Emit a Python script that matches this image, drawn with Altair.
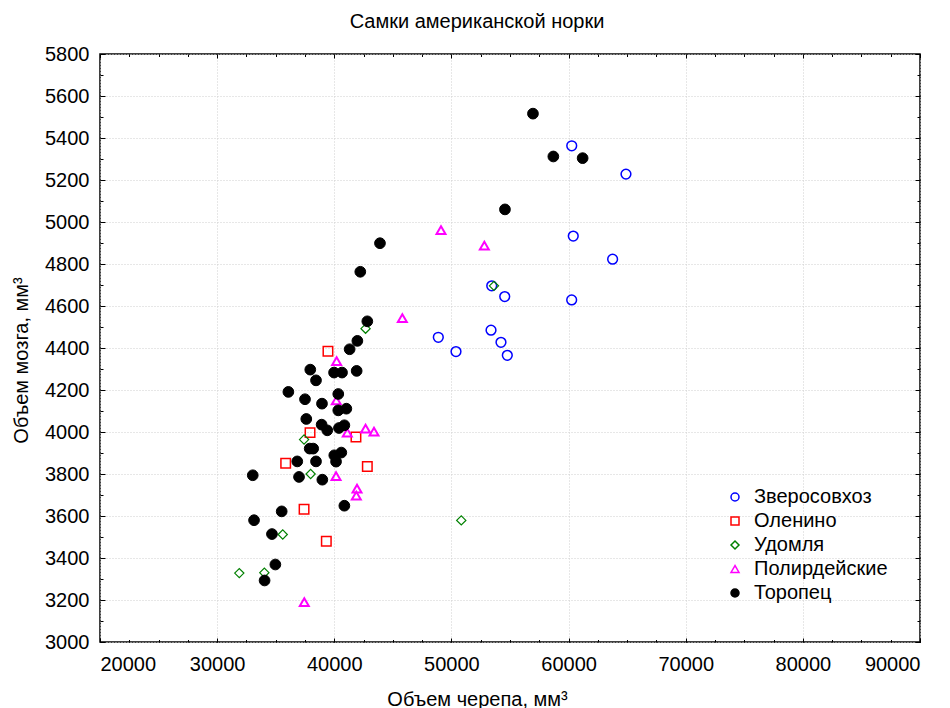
import altair as alt
import pandas as pd

FONT = "Liberation Sans"

groups = ["Зверосовхоз", "Оленино", "Удомля", "Полирдейские", "Торопец"]
stroke_colors = ["#0000ff", "#ff0000", "#008000", "#ff00ff", "#000000"]
fill_colors = ["transparent", "transparent", "transparent", "transparent", "#000000"]
shapes = ["circle", "square", "diamond", "triangle-up", "circle"]
sizes = [95, 90, 85, 80, 115]
stroke_widths = [1.5, 1.5, 1.2, 2.0, 1.0]

zver_x = [60270, 64900, 60400, 63760, 60265, 53440, 54550, 48880, 50390, 53380, 54230, 54770]
zver_y = [5363, 5228, 4933, 4823, 4629, 4696, 4645, 4451, 4383, 4485, 4427, 4365]

olen_x = [39460, 37930, 41850, 35850, 42820, 37420, 39320]
olen_y = [4385, 3997, 3976, 3851, 3836, 3632, 3480]

udom_x = [42670, 53630, 37420, 37980, 35600, 50840, 31890, 34030]
udom_y = [4492, 4696, 3964, 3800, 3512, 3579, 3328, 3330]

polir_x = [49110, 52810, 45810, 40200, 40170, 41110, 42670, 43390, 40150, 41940, 41880, 37440]
polir_y = [4961, 4888, 4542, 4337, 4150, 3997, 4016, 4002, 3790, 3730, 3697, 3190]

toro_x = [56960, 58700, 61200, 54570, 43900, 42220, 42820, 41970, 41310, 37950,
          39980, 40660, 41910, 38440, 36080, 40340, 37500, 38950, 40340, 41030,
          37610, 38920, 39400, 40400, 40860, 37900, 38200, 36840, 38440, 40000,
          40150, 40600, 33040, 36990, 38980, 40860, 35510, 33150, 34680, 34970, 34050]
toro_y = [5516, 5312, 5304, 5060, 4899, 4763, 4527, 4434, 4394, 4297,
          4283, 4283, 4291, 4246, 4191, 4181, 4156, 4135, 4103, 4111,
          4062, 4035, 4008, 4019, 4032, 3921, 3921, 3860, 3860, 3889,
          3859, 3902, 3794, 3786, 3773, 3649, 3622, 3580, 3514, 3369, 3293]

x_major_ticks = [20000, 30000, 40000, 50000, 60000, 70000, 80000, 90000]
x_minor_ticks = [20000 + 2500 * i for i in range(29)]
y_major_ticks = [3000 + 200 * i for i in range(15)]
y_minor_ticks = [3000 + 100 * i for i in range(29)]

series = [(groups[0], zver_x, zver_y), (groups[1], olen_x, olen_y),
          (groups[2], udom_x, udom_y), (groups[3], polir_x, polir_y),
          (groups[4], toro_x, toro_y)]
rows = []
for name, xs, ys in series:
    for xv, yv in zip(xs, ys):
        rows.append({"grp": name, "x": xv, "y": yv})
df = pd.DataFrame(rows)

xscale = alt.Scale(domain=[20000, 90000], nice=False, zero=False)
yscale = alt.Scale(domain=[3000, 5800], nice=False, zero=False)

common = dict(domain=False, tickColor="black", tickWidth=1, labelFont=FONT,
              labelFontSize=20, labelColor="black", titleFont=FONT,
              titleFontSize=20, titleFontWeight="normal", titleColor="black")
blank = dict(domain=False, tickColor="black", tickWidth=1, labels=False,
             title=None, grid=False)

leg = alt.Legend(orient="none", legendX=625, legendY=433, title=None,
                 labelFont=FONT, labelFontSize=20, labelColor="black",
                 symbolSize=64, symbolStrokeWidth=1.5, rowPadding=4,
                 labelOffset=9, padding=0)

size_conditions = [{"test": f"datum.grp === '{g}'", "value": s}
                   for g, s in zip(groups, sizes)]
sw_conditions = [{"test": f"datum.grp === '{g}'", "value": w}
                 for g, w in zip(groups, stroke_widths)]

points = alt.Chart(df).mark_point(strokeWidth=1.5, opacity=1).encode(
    x=alt.X("x:Q", scale=xscale, axis=alt.Axis(
        orient="bottom", values=x_major_ticks, format="d", grid=True,
        gridColor="#cfcfcf", gridDash=[1, 2], gridWidth=1, tickSize=4,
        offset=-4, labelPadding=12, title="Объем черепа, мм³",
        titleX=377, titleY=61, titleAlign="center", titleBaseline="middle",
        **common)),
    y=alt.Y("y:Q", scale=yscale, axis=alt.Axis(
        orient="left", values=y_major_ticks, format="d", grid=True,
        gridColor="#cfcfcf", gridDash=[1, 2], gridWidth=1, tickSize=5,
        offset=-5, labelPadding=11, title="Объем мозга, мм³",
        titleX=-84, titleY=306, titleAlign="center", titleBaseline="middle",
        titleAngle=270, **common)),
    stroke=alt.Stroke("grp:N", scale=alt.Scale(domain=groups, range=stroke_colors), legend=leg),
    fill=alt.Fill("grp:N", scale=alt.Scale(domain=groups, range=fill_colors), legend=leg),
    shape=alt.Shape("grp:N", scale=alt.Scale(domain=groups, range=shapes), legend=leg),
    size=alt.SizeValue(100, condition=size_conditions),
    strokeWidth=alt.StrokeWidthValue(1.5, condition=sw_conditions),
)

minor = alt.Chart(df).mark_point(opacity=0).encode(
    x=alt.X("x:Q", scale=xscale, axis=alt.Axis(orient="bottom", values=x_minor_ticks,
                                               tickSize=2.5, offset=-2.5, **blank)),
    y=alt.Y("y:Q", scale=yscale, axis=alt.Axis(orient="left", values=y_minor_ticks,
                                               tickSize=3, offset=-3, **blank)),
)
top_major = alt.Chart(df).mark_point(opacity=0).encode(
    x=alt.X("x:Q", scale=xscale, axis=alt.Axis(orient="top", values=x_major_ticks,
                                               tickSize=4, offset=-4, **blank)),
    y=alt.Y("y:Q", scale=yscale, axis=alt.Axis(orient="right", values=y_major_ticks,
                                               tickSize=5, offset=-5, **blank)),
)
top_minor = alt.Chart(df).mark_point(opacity=0).encode(
    x=alt.X("x:Q", scale=xscale, axis=alt.Axis(orient="top", values=x_minor_ticks,
                                               tickSize=2.5, offset=-2.5, **blank)),
    y=alt.Y("y:Q", scale=yscale, axis=alt.Axis(orient="right", values=y_minor_ticks,
                                               tickSize=3, offset=-3, **blank)),
)

chart = alt.layer(minor, top_major, top_minor, points).resolve_axis(
    x="independent", y="independent"
).properties(
    width=820, height=588,
    autosize=alt.AutoSizeParams(type="none"),
    padding={"left": 92, "top": 46, "right": 22, "bottom": 66},
    title=alt.TitleParams("Самки американской норки", font=FONT, fontSize=20,
                          fontWeight="normal", color="black", anchor="middle",
                          dx=-33, offset=12),
).configure_view(stroke="black", strokeWidth=1.5)

chart.save("out.html", embed_options={"renderer": "svg", "actions": False})
